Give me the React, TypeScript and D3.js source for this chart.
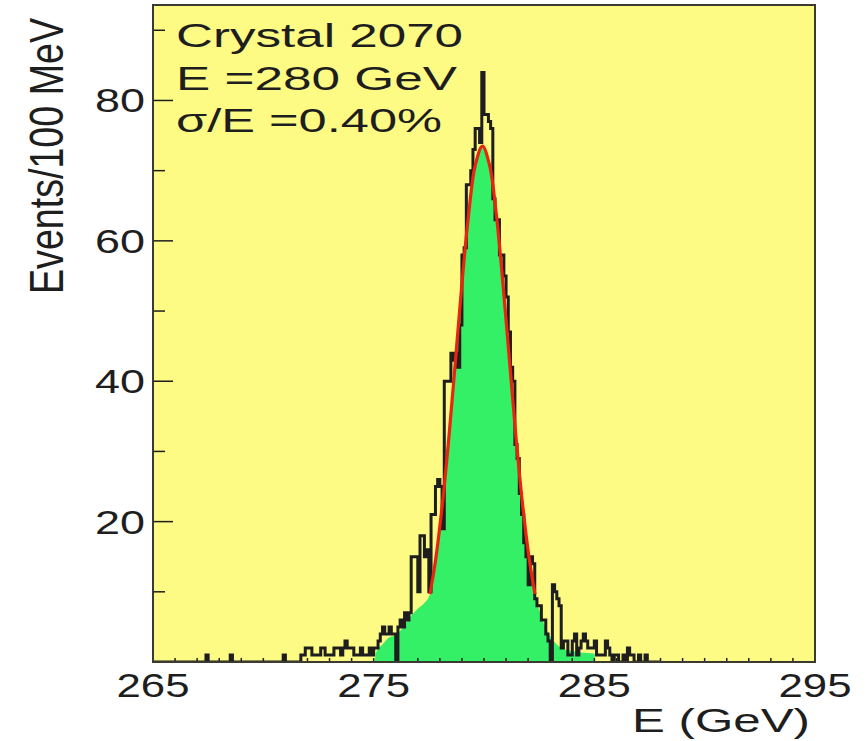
import { useMemo } from "react";
import * as d3 from "d3";

// canvas + plot frame
const W = 866;
const H = 741;
const M = { left: 153, right: 815, top: 5, bottom: 662 };

const X_DOMAIN = [265, 295];
const Y_MAX = 93.6;

// histogram: 100 MeV bins starting at HIST_START
const HIST_START = 267.0;
const BIN = 0.1;
const COUNTS = [
  0, 0, 0, 0, 1, 0, 0, 0, 0, 0, // 267
  0, 0, 0, 0, 0, 1, 0, 0, 0, 0, // 268
  0, 0, 0, 0, 0, 0, 0, 0, 0, 0, // 269
  0, 0, 0, 0, 0, 0, 0, 0, 0, 1, // 270
  0, 0, 0, 0, 0, 0, 0, 1, 1, 2, // 271
  2, 2, 1, 1, 1, 1, 2, 2, 1, 1, // 272
  1, 1, 2, 2, 2, 1, 2, 3, 2, 2, // 273
  2, 1, 1, 1, 2, 1, 1, 1, 2, 1, // 274
  2, 2, 3, 4, 5, 4, 4, 5, 4, 4, // 275
  0, 5, 6, 5, 7, 6, 7, 15, 15, 15, // 276
  10, 18, 18, 15, 16, 10, 21, 21, 25, 26, // 277
  25, 19, 40, 40, 40, 44, 43, 44, 42, 48, // 278
  58, 59, 68, 68, 70, 73, 76, 76, 74, 84, // 279
  78, 78, 77, 76, 66, 63, 63, 58, 58, 55, // 280
  52, 47, 42, 40, 31, 29, 24, 21, 17, 15, // 281
  11, 15, 14, 9, 8, 8, 6, 6, 4, 3, // 282
  0, 11, 10, 9, 8, 2, 3, 3, 1, 1, // 283
  3, 4, 1, 2, 3, 4, 3, 2, 2, 2, // 284
  3, 1, 1, 1, 1, 3, 2, 1, 0, 1, // 285
  1, 0, 0, 1, 0, 2, 1, 1, 0, 0, // 286
  1, 0, 0, 1, 0, 0, 0, 0, 0, 0, // 287
];

// green filled envelope
const GREEN_E = [
  275.05, 275.1, 275.4, 275.7, 276.0, 276.3, 276.6, 277.0, 277.3, 277.55, 277.8,
  278.1, 278.4, 278.7, 279.0, 279.3, 279.6, 279.93, 280.25, 280.55, 280.85,
  281.15, 281.45, 281.75, 282.05, 282.31, 282.6, 282.9, 283.2, 283.5, 283.9,
  284.3, 284.7, 285.0, 285.05,
];
const GREEN_V = [
  0, 1.3, 2.5, 3.5, 3.8, 4.8, 6.2, 7.6, 8.4, 9.7, 14.4,
  22.1, 31.7, 42.7, 53.9, 63.7, 70.7, 73.5, 70.8, 64.0, 54.2,
  43.1, 32.0, 22.4, 14.7, 9.7, 6.5, 4.2, 2.8, 2.0, 1.6,
  1.4, 1.3, 1.2, 0,
];

// red gaussian fit
const FIT_E = [
  277.55, 277.8, 278.1, 278.4, 278.7, 279.0, 279.3, 279.6, 279.93,
  280.25, 280.55, 280.85, 281.15, 281.45, 281.75, 282.05, 282.31,
];
const FIT_V = [
  9.7, 14.4, 22.1, 31.7, 42.7, 53.9, 63.7, 70.7, 73.5,
  70.8, 64.0, 54.2, 43.1, 32.0, 22.4, 14.7, 9.7,
];

const X_LABELS = [265, 275, 285, 295];
const Y_LABELS = [20, 40, 60, 80];
const Y_MINOR = [10, 30, 50, 70, 90];
const X_MINOR = d3.range(266, 295);
const INFO_LINES = ["Crystal 2070", "E =280 GeV", "σ/E =0.40%"];
const INFO_LEN = [287, 281, 266];

const FONT = "'Liberation Sans', Arial, Helvetica, sans-serif";
const YELLOW = "#fdfb84";
const GREEN = "#33f066";
const RED = "#e8250e";
const INK = "#1e1e1e";

export default function App() {
  const x = useMemo(() => d3.scaleLinear().domain(X_DOMAIN).range([M.left, M.right]), []);
  const y = useMemo(() => d3.scaleLinear().domain([0, Y_MAX]).range([M.bottom, M.top]), []);

  // black step outline
  let hist = `M${x(X_DOMAIN[0])},${y(0)}H${x(HIST_START)}`;
  COUNTS.forEach((c, i) => {
    const e = HIST_START + i * BIN;
    hist += `V${y(c)}H${x(e + BIN)}`;
  });
  hist += `V${y(0)}`;

  const greenPts = GREEN_E.map((e, i) => [e, GREEN_V[i]] as [number, number]);
  const greenArea = d3
    .area<[number, number]>()
    .x((d) => x(d[0]))
    .y0(y(0))
    .y1((d) => y(d[1]))
    .curve(d3.curveMonotoneX)(greenPts);

  const fitPts = FIT_E.map((e, i) => [e, FIT_V[i]] as [number, number]);
  const fitLine = d3
    .line<[number, number]>()
    .x((d) => x(d[0]))
    .y((d) => y(d[1]))
    .curve(d3.curveCatmullRom)(fitPts);

  return (
    <svg
      width={W}
      height={H}
      style={{ position: "absolute", left: 0, top: 0, background: "#fff" }}
      fontFamily={FONT}
    >
      <defs>
        <clipPath id="plot">
          <rect x={M.left} y={M.top} width={M.right - M.left} height={M.bottom - M.top} />
        </clipPath>
      </defs>
      <rect x={M.left} y={M.top} width={M.right - M.left} height={M.bottom - M.top} fill={YELLOW} />
      <g clipPath="url(#plot)">
        <path d={greenArea || ""} fill={GREEN} />
        <path d={hist} fill="none" stroke={INK} strokeWidth={3} />
        <path d={fitLine || ""} fill="none" stroke={RED} strokeWidth={3.2} />
      </g>

      {/* ticks */}
      {Y_LABELS.map((v) => (
        <line key={"ym" + v} x1={M.left} x2={M.left + 20} y1={y(v)} y2={y(v)} stroke={INK} strokeWidth={1.5} />
      ))}
      {Y_MINOR.map((v) => (
        <line key={"yn" + v} x1={M.left} x2={M.left + 12} y1={y(v)} y2={y(v)} stroke={INK} strokeWidth={1.5} />
      ))}
      {X_MINOR.map((v) => (
        <line key={"xn" + v} x1={x(v)} x2={x(v)} y1={M.bottom} y2={M.bottom - 4} stroke={INK} strokeWidth={1.5} />
      ))}

      <rect
        x={M.left}
        y={M.top}
        width={M.right - M.left}
        height={M.bottom - M.top}
        fill="none"
        stroke="#3a3a30"
        strokeWidth={2}
      />

      {/* labels */}
      {Y_LABELS.map((v) => (
        <text key={"yl" + v} x={145} y={y(v) + 12} fontSize={34} fill={INK} textAnchor="end" textLength={50} lengthAdjust="spacingAndGlyphs">
          {v}
        </text>
      ))}
      {X_LABELS.map((v) => (
        <text key={"xl" + v} x={x(v)} y={697} fontSize={33} fill={INK} textAnchor="middle" textLength={73} lengthAdjust="spacingAndGlyphs">
          {v}
        </text>
      ))}
      <text x={632} y={732} fontSize={34} fill={INK} textLength={178} lengthAdjust="spacingAndGlyphs">
        E (GeV)
      </text>
      <text
        transform="translate(63,156) rotate(-90) scale(1,1.4)"
        fontSize={34}
        fill={INK}
        textAnchor="middle"
        textLength={276}
        lengthAdjust="spacingAndGlyphs"
      >
        Events/100 MeV
      </text>
      {INFO_LINES.map((t, i) => (
        <text key={t} x={176} y={47 + i * 42.5} fontSize={34} fill={INK} textLength={INFO_LEN[i]} lengthAdjust="spacingAndGlyphs">
          {t}
        </text>
      ))}
    </svg>
  );
}
